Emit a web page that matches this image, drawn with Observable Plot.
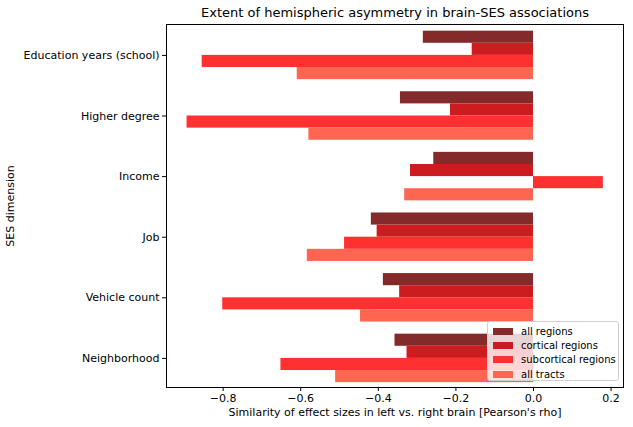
<!DOCTYPE html>
<html>
<head>
<meta charset="utf-8">
<script src="https://cdn.jsdelivr.net/npm/d3@7"></script>
<script src="https://cdn.jsdelivr.net/npm/@observablehq/plot@0.6"></script>
<style>
  body { margin: 0; background: #fff; }
  #wrap { position: relative; width: 633px; height: 427px; font-family: "DejaVu Sans", sans-serif; }
  #legend { position: absolute; left: 487px; top: 321px; width: 132px; height: 60px; box-sizing: border-box; padding: 2px 0 0 0;
    background: rgba(255,255,255,0.8); border: 1px solid #d0d0d0; border-radius: 3px; font-size: 10px; color: #000; white-space: nowrap; }
  .row { display: flex; align-items: center; height: 14.3px; }
  .sw { width: 20px; height: 7px; margin: 0 8px 0 5px; flex: none; }
</style>
</head>
<body>
<div id="wrap"></div>
<script>
const categories = ["Education years (school)", "Higher degree", "Income", "Job", "Vehicle count", "Neighborhood"];
const seriesNames = ["all regions", "cortical regions", "subcortical regions", "all tracts"];
const seriesColors = ["#852a2a", "#cc1c1f", "#fe3030", "#fe6652"];
const allRegions  = [-0.284, -0.343, -0.257, -0.418, -0.387, -0.357];
const cortical    = [-0.158, -0.214, -0.317, -0.403, -0.345, -0.326];
const subcortical = [-0.854, -0.893,  0.180, -0.487, -0.801, -0.651];
const allTracts   = [-0.609, -0.579, -0.332, -0.583, -0.446, -0.510];
const xTicks = [-0.8, -0.6, -0.4, -0.2, 0.0, 0.2];

const seriesValues = [allRegions, cortical, subcortical, allTracts];
const rows = [];
categories.forEach((c, i) => {
  seriesValues.forEach((vals, j) => {
    rows.push({cat: c, idx: i, series: seriesNames[j], value: vals[i],
               y1: i - 0.4 + j * 0.2, y2: i - 0.4 + (j + 1) * 0.2});
  });
});

const chart = Plot.plot({
  width: 633,
  height: 427,
  marginLeft: 166,
  marginRight: 10,
  marginTop: 24,
  marginBottom: 40,
  style: {fontFamily: "DejaVu Sans, sans-serif", fontSize: "11px", color: "#000", background: "#fff"},
  x: {domain: [-0.946, 0.232]},
  y: {domain: [5.48, -0.51]},
  color: {domain: seriesNames, range: seriesColors},
  marks: [
    Plot.rectX(rows, {x1: 0, x2: "value", y1: "y1", y2: "y2", fill: "series"}),
    Plot.frame({stroke: "#000", strokeWidth: 1}),
    Plot.axisX({ticks: xTicks, tickFormat: d3.format(".1f"), tickSize: 4, tickPadding: 3,
      label: "Similarity of effect sizes in left vs. right brain [Pearson's rho]",
      labelAnchor: "center", labelArrow: "none", labelOffset: 28, fontSize: 11}),
    Plot.axisY({ticks: d3.range(categories.length), tickFormat: i => categories[i], tickSize: 4, tickPadding: 3,
      label: "SES dimension", labelAnchor: "center", labelArrow: "none", labelOffset: 160, fontSize: 11}),
    Plot.text(["Extent of hemispheric asymmetry in brain-SES associations"], {
      frameAnchor: "top", lineAnchor: "middle", dy: -12, fontSize: 13, fill: "#000"})
  ]
});

const wrap = document.getElementById("wrap");
wrap.appendChild(chart);
const legend = document.createElement("div");
legend.id = "legend";
seriesNames.forEach((n, j) => {
  const r = document.createElement("div");
  r.className = "row";
  r.innerHTML = `<div class="sw" style="background:${seriesColors[j]}"></div><span>${n}</span>`;
  legend.appendChild(r);
});
wrap.appendChild(legend);
</script>
</body>
</html>
